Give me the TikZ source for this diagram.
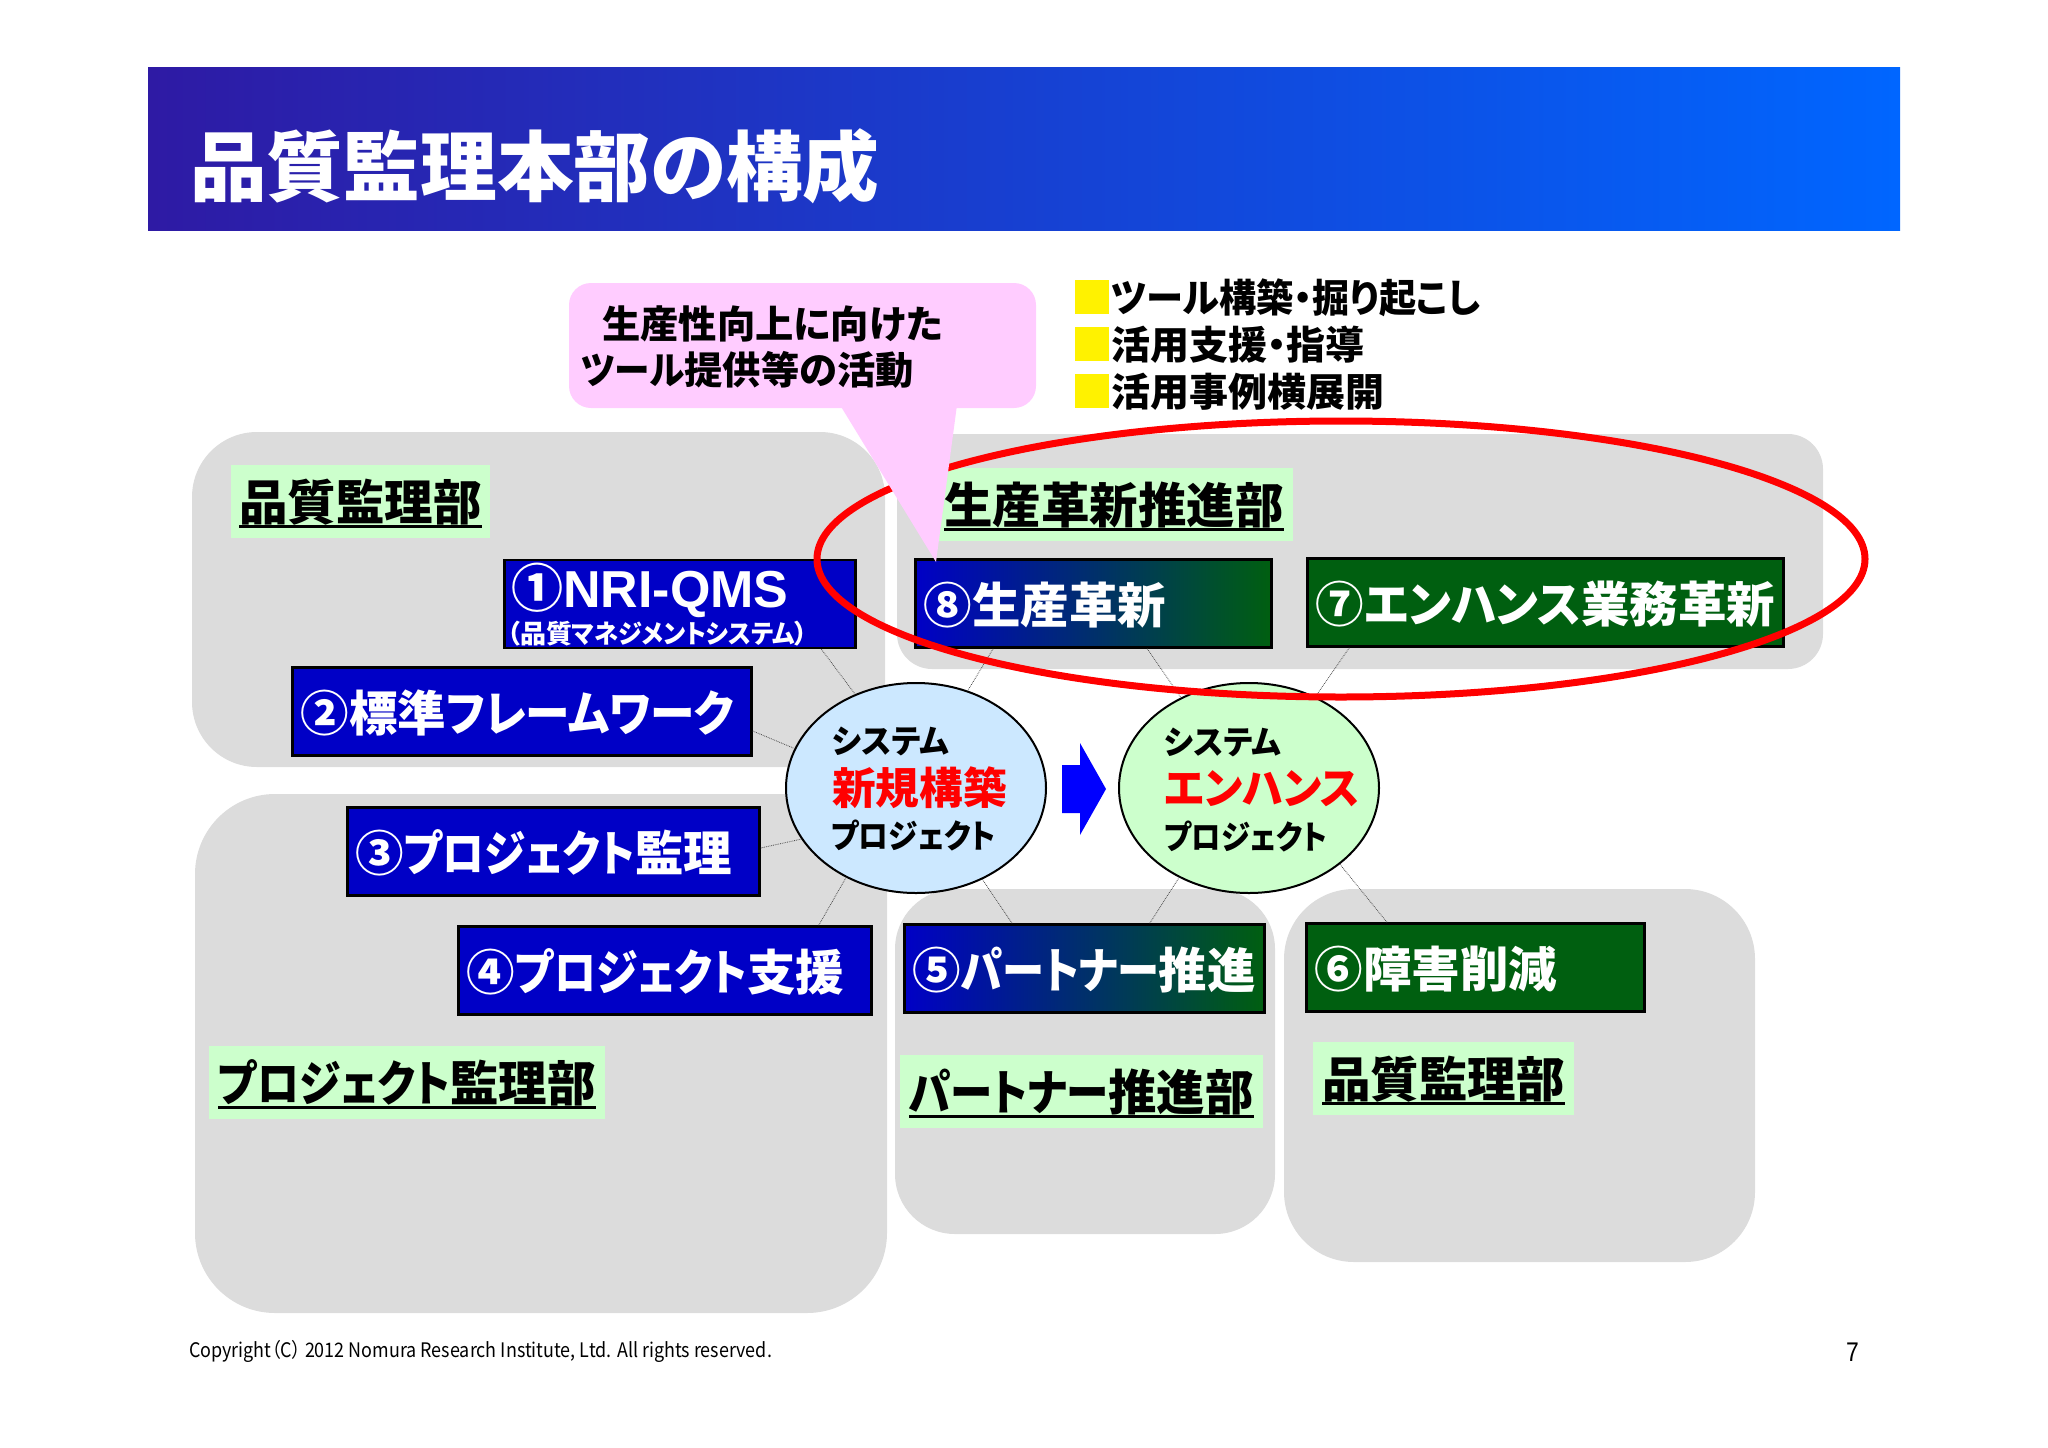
\documentclass[tikz,border=0pt]{standalone}
\usepackage{fontspec}
\usepackage{graphicx}
\usepackage{xcolor}
\usepackage{tikz}
\usetikzlibrary{calc,shapes.geometric}
\newfontfamily\latinfont{Liberation Sans}
\newfontfamily\gothfont[RawFeature=+palt]{Noto Sans CJK JP}
\setmainfont{Noto Sans CJK JP Black}[RawFeature=+palt]
\definecolor{barl}{HTML}{2E1AA4}
\definecolor{barm}{HTML}{0F4ADF}
\definecolor{barr}{HTML}{0066FF}
\definecolor{panel}{HTML}{DCDCDC}
\definecolor{mint}{HTML}{CCFFCC}
\definecolor{pinkish}{HTML}{FFCCFF}
\definecolor{deepblue}{HTML}{0000C6}
\definecolor{deepgreen}{HTML}{005F10}
\definecolor{teal}{HTML}{0A4A80}
\definecolor{skyish}{HTML}{CCE8FF}
\newcommand{\fs}[1]{\fontsize{#1}{#1}\selectfont}
\newcommand{\nk}[2]{\scalebox{#1}[1]{#2}}
\newcommand{\secline}[1]{\setbox0\hbox{#1}\rlap{\rule[-7pt]{\wd0}{3pt}}\box0}
\tikzset{
  panelbox/.style={fill=panel, rounded corners=#1},
  secbox/.style={fill=mint, inner sep=0pt, text=black, font=\fs{48.5}, minimum height=73pt,
    text height=44pt, text depth=5pt},
  tag/.style={draw=black, line width=2.5pt, text=white, inner ysep=0pt, inner xsep=8pt,
    minimum height=88pt, align=left, font=\fs{48.5}, text height=45pt, text depth=5pt},
  bluetag/.style={tag, fill=deepblue},
  greentag/.style={tag, fill=deepgreen},
  mixtag/.style={tag, left color=deepblue, middle color=teal, right color=deepgreen},
  proj/.style={ellipse, draw=black, line width=2pt, minimum width=260pt, minimum height=210pt, inner sep=0pt},
  lab/.style={anchor=west, inner sep=0pt, text=black},
  link/.style={draw=black!70, line width=0.8pt, densely dotted},
  dot/.style={fill=yellow, minimum size=34pt, inner sep=0pt}
}
\begin{document}
\begin{tikzpicture}[x=1pt,y=-1pt]
  \useasboundingbox (0,0) rectangle (2048,1448);
  % title bar
  \node[left color=barl, middle color=barm, right color=barr, minimum width=1752pt, minimum height=163pt, inner sep=0pt] (bar) at (1024,148.5) {};
  \node[anchor=west, inner sep=0pt, text=white, font=\fs{76.7}] (title) at (190,166) {品質監理本部の構成};

  % panels
  \fill[panelbox=65pt] (192,432) rectangle (885,767);
  \fill[panelbox=80pt] (195,794) rectangle (887,1313);
  \fill[panelbox=35pt] (897,434) rectangle (1823,669);
  \fill[panelbox=60pt] (895,889) rectangle (1275,1234);
  \fill[panelbox=70pt] (1284,889) rectangle (1755,1262);

  % section names
  \node[secbox, minimum width=259pt] (secqa) at (360.5,501) {\secline{品質監理部}};
  \node[secbox, minimum width=358pt] (secprod) at (1114,504) {\secline{生産革新推進部}};
  \node[secbox, minimum width=396pt] (secpj) at (407,1082) {\secline{\nk{0.865}{プロジェクト}監理部}};
  \node[secbox, minimum width=363pt] (secpt) at (1081.5,1091) {\secline{\nk{0.875}{パートナー}推進部}};
  \node[secbox, minimum width=261pt] (secqb) at (1443.5,1078) {\secline{品質監理部}};

  % tags
  \node[bluetag, text width=335pt] (qms) at (680,604) {};
  \node[lab, text=white, font=\fs{52}] (qmsa) at (511,590) {①{\latinfont\bfseries NRI-QMS}};
  \node[lab, text=white, font=\fs{26}] (qmsb) at (507,634) {（品質\nk{0.93}{マネジメントシステム}）};
  \node[bluetag, text width=443pt] (frame) at (522,711.5) {②標準\nk{0.92}{フレームワーク}};
  \node[bluetag, text width=396pt] (audit) at (553.5,851.5) {③\nk{0.86}{プロジェクト}監理};
  \node[bluetag, text width=397pt] (support) at (665,970.5) {④\nk{0.865}{プロジェクト}支援};
  \node[mixtag, text width=340pt] (prodtag) at (1093.5,603.5) {⑧生産革新};
  \node[greentag, text width=460pt] (enh) at (1545.5,602.5) {⑦\nk{0.96}{エンハンス}業務革新};
  \node[mixtag, text width=344pt] (ptnr) at (1084.5,968.5) {⑤\nk{0.87}{パートナー}推進};
  \node[greentag, text width=322pt] (fail) at (1475.5,967.5) {⑥障害削減};

  % projects
  \node[proj, fill=skyish] (newpj) at (916,788) {};
  \node[proj, fill=mint] (enhpj) at (1249,788) {};
  \node[lab, font=\fs{33}] (na) at (832,741) {\nk{0.96}{システム}};
  \node[lab, font=\fs{43.7}, text=red] (nb) at (832,788) {新規構築};
  \node[lab, font=\fs{33}] (nc) at (831,835) {\nk{0.9}{プロジェクト}};
  \node[lab, font=\fs{33}] (ea) at (1164,742) {\nk{0.96}{システム}};
  \node[lab, font=\fs{43.7}, text=red] (eb) at (1164,789) {\nk{0.96}{エンハンス}};
  \node[lab, font=\fs{33}] (ec) at (1164,836) {\nk{0.89}{プロジェクト}};

  \fill[blue] (1062,765) -- (1080,765) -- (1080,743) -- (1106,789) -- (1080,835) -- (1080,813) -- (1062,813) -- cycle;

  % links
  \draw[link] ($(qms.south west)!0.90!(qms.south east)$) -- (newpj.123.5);
  \draw[link] (frame.east |- 0,731) -- (newpj.162);
  \draw[link] (audit.east |- 0,848) -- (newpj.204.5);
  \draw[link] ($(support.north west)!0.87!(support.north east)$) -- (newpj.232);
  \draw[link] ($(prodtag.south west)!0.22!(prodtag.south east)$) -- (newpj.62.5);
  \draw[link] ($(ptnr.north west)!0.30!(ptnr.north east)$) -- (newpj.306.5);
  \draw[link] ($(prodtag.south west)!0.65!(prodtag.south east)$) -- (enhpj.127);
  \draw[link] ($(enh.south west)!0.09!(enh.south east)$) -- (enhpj.54);
  \draw[link] ($(ptnr.north west)!0.68!(ptnr.north east)$) -- (enhpj.232.6);
  \draw[link] ($(fail.north west)!0.24!(fail.north east)$) -- (enhpj.320);

  % red ring and callout
  \node[ellipse, draw=red, line width=7pt, minimum width=1048pt, minimum height=276pt, inner sep=0pt] (ring) at (1341,559) {};

  \fill[pinkish, rounded corners=22pt] (569,283) rectangle (1036,408);
  \fill[pinkish] (840,405) -- (936,562) -- (957,405) -- cycle;
  \node[lab, font=\fs{38.3}] (ca) at (602,324) {生産性向上に向けた};
  \node[lab, font=\fs{38.3}] (cb) at (581,370) {\nk{0.93}{ツール}提供等の活動};

  % list
  \node[dot] (da) at (1092,297) {};
  \node[dot] (db) at (1092,344) {};
  \node[dot] (dc) at (1092,391) {};
  \node[lab, font=\fs{39}] (la) at (1111,298) {\nk{0.955}{ツール構築・掘り起こし}};
  \node[lab, font=\fs{39}] (lb) at (1111,345) {活用支援・指導};
  \node[lab, font=\fs{39}] (lc) at (1111,392) {活用事例横展開};

  \node[lab, font={\gothfont\fs{20}}] (copy) at (189,1351) {\nk{0.897}{Copyright（C） 2012 Nomura Research Institute, Ltd. All rights reserved.}};
  \node[lab, font={\latinfont\fs{27}}] (page) at (1846,1352) {\nk{0.85}{7}};
\end{tikzpicture}
\end{document}
